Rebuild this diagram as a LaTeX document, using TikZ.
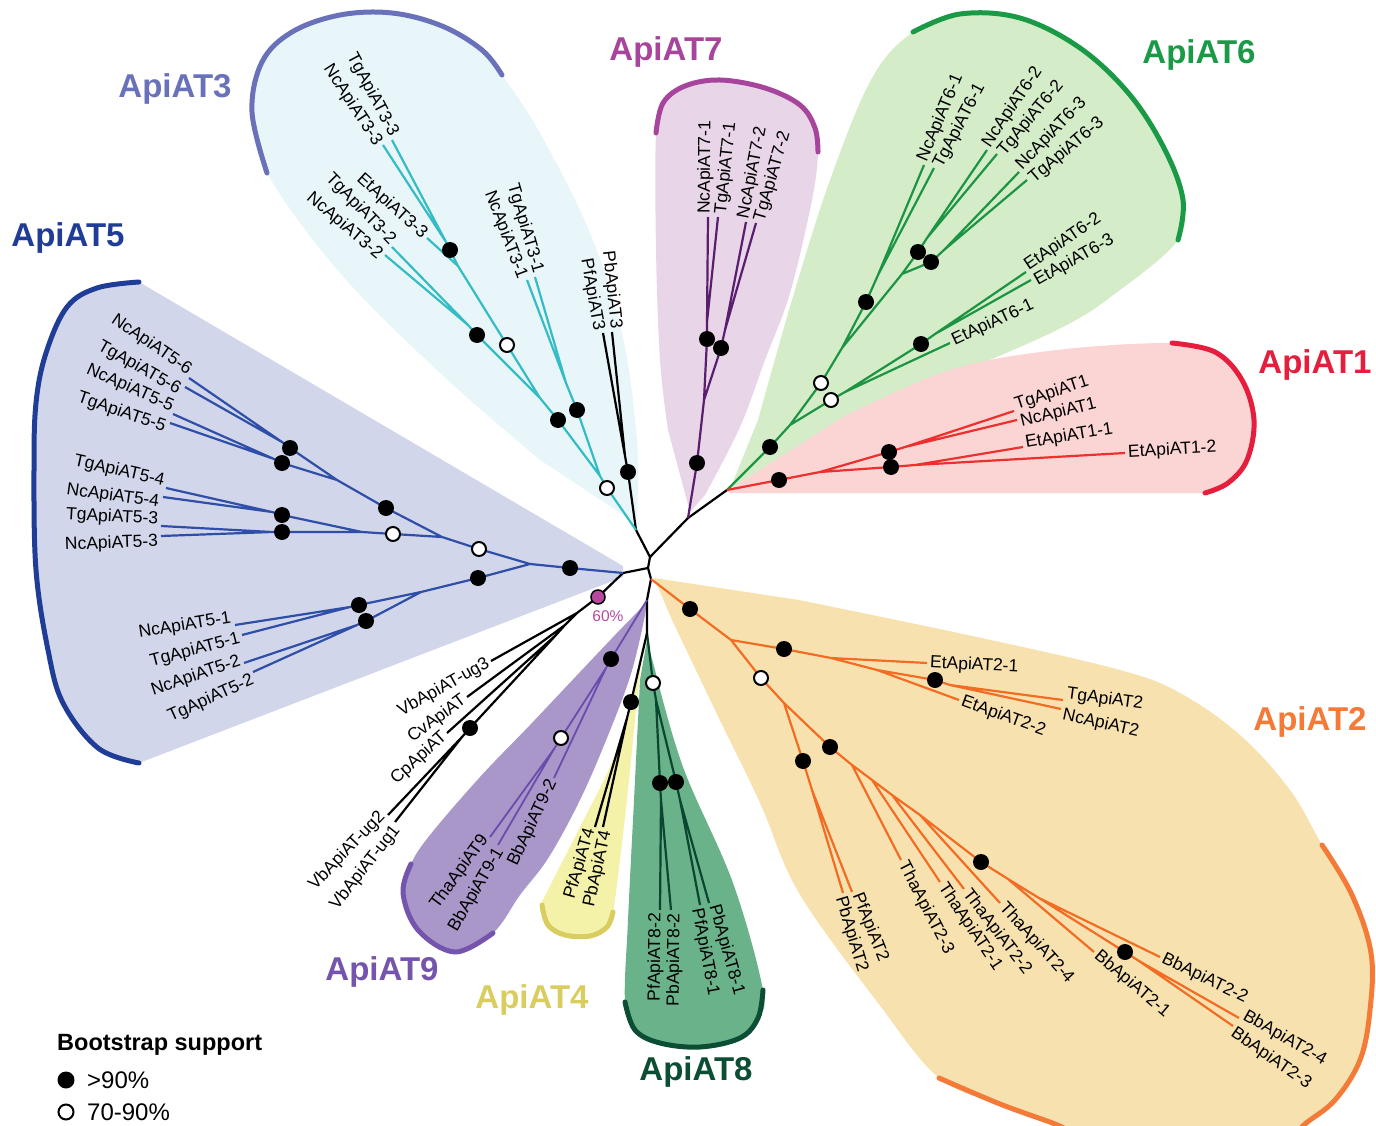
\documentclass[tikz,border=0pt]{standalone}
\usepackage{fontspec}
\setmainfont{Liberation Sans}
\usetikzlibrary{calc}
\definecolor{c3br}{RGB}{52,188,196}
\definecolor{c7br}{RGB}{90,30,110}
\definecolor{c6br}{RGB}{28,148,68}
\definecolor{c1br}{RGB}{236,48,45}
\definecolor{c2br}{RGB}{243,108,36}
\definecolor{c8br}{RGB}{10,70,48}
\definecolor{c9br}{RGB}{106,76,172}
\definecolor{c5br}{RGB}{46,78,168}
\definecolor{c3fill}{RGB}{233,246,249}
\definecolor{c7fill}{RGB}{232,213,231}
\definecolor{c6fill}{RGB}{212,237,200}
\definecolor{c1fill}{RGB}{250,213,211}
\definecolor{c2fill}{RGB}{247,226,175}
\definecolor{c8fill}{RGB}{106,178,137}
\definecolor{c4fill}{RGB}{243,242,168}
\definecolor{c9fill}{RGB}{169,151,201}
\definecolor{c5fill}{RGB}{210,214,234}
\definecolor{c3arc}{RGB}{105,113,186}
\definecolor{c7arc}{RGB}{167,68,155}
\definecolor{c6arc}{RGB}{26,154,70}
\definecolor{c1arc}{RGB}{228,30,60}
\definecolor{c2arc}{RGB}{243,122,55}
\definecolor{c8arc}{RGB}{11,78,51}
\definecolor{c4arc}{RGB}{217,205,96}
\definecolor{c9arc}{RGB}{116,84,172}
\definecolor{c5arc}{RGB}{31,60,151}
\definecolor{pinksix}{RGB}{183,72,158}
\newcommand\lblfont{\fontsize{17.5}{19}\selectfont}
\newcommand\ttlfont{\fontsize{33}{37}\selectfont\bfseries}
\newcommand\lfR[5]{\path ($(#1)!#3pt!90:(#2)$) -- ($(#2)!#3pt!-90:(#1)$) node[lblR] (#4) {#5};}
\newcommand\lfL[5]{\path ($(#1)!#3pt!-90:(#2)$) -- ($(#2)!#3pt!90:(#1)$) node[lblL] (#4) {#5};}
\newcommand\fdt[1]{\node[fdot] (D#1) at (#1) {};}
\newcommand\odt[1]{\node[odot] (D#1) at (#1) {};}
\begin{document}
\begin{tikzpicture}[x=1pt,y=-1pt,
  branch/.style={line width=2.2pt, line join=round},
  fdot/.style={circle, fill=black, minimum size=16pt, inner sep=0pt},
  odot/.style={circle, draw=black, fill=white, line width=2pt, minimum size=14pt, inner sep=0pt},
  cladearc/.style={line width=5pt, line cap=round},
  lblR/.style={pos=1, sloped, anchor=west, inner xsep=3pt, inner ysep=0.5pt, font=\lblfont},
  lblL/.style={pos=1, sloped, anchor=east, inner xsep=3pt, inner ysep=0.5pt, font=\lblfont},
  ttl/.style={font=\ttlfont},
  legf/.style={font=\fontsize{24}{26}\selectfont, anchor=west}]
\useasboundingbox (0,0) rectangle (1376,1126);
\begin{scope}
\clip (0,0) rectangle (1376,1126);
% ---------- clade regions
\fill[c5fill] (623,566) -- (139,282) -- plot[smooth,tension=0.6] coordinates {(139,282) (97,288) (67,307) (46,353) (36,403) (34,470) (36,570) (48,650) (63,703) (98,748) (139,763)} -- (623,577) -- cycle;
\fill[c3fill] (634,522) -- plot[smooth,tension=0.6] coordinates {(540,460) (440,373) (340,273) (267,173) (252,112) (262,62) (292,32) (340,15) (392,13) (442,26) (482,50) (502,75) (540,133) (590,233) (622,333) (637,440) (637,515)} -- cycle;
\fill[c7fill] (690,512) -- plot[smooth,tension=0.6] coordinates {(668,430) (660,360) (656,250) (656,133) (663,103) (685,86) (720,80) (765,88) (800,105) (815,128) (818,152) (812,200) (790,293) (765,360) (740,427) (705,495)} -- cycle;
\fill[c6fill] (730,489) -- plot[smooth,tension=0.6] coordinates {(758,420) (792,300) (830,180) (872,78) (913,32) (960,14) (1020,18) (1080,48) (1130,95) (1165,150) (1183,200) (1178,240) (1120,290) (1057,330) (914,393) (771,463)} -- cycle;
\fill[c1fill] (727,491) -- plot[smooth,tension=0.6] coordinates {(843,417) (950,370) (1057,350) (1172,343) (1215,352) (1242,380) (1254,420) (1247,460) (1228,483) (1205,493)} -- (730,493) -- cycle;
\fill[c2fill] (654,578) -- plot[smooth,tension=0.6] coordinates {(799,600) (977,637) (1120,670) (1180,693) (1240,735) (1290,790) (1322,845) (1352,895) (1371,953) (1370,1010) (1360,1060) (1335,1100) (1305,1124) (1290,1140)} -- (1070,1140) -- plot[smooth,tension=0.6] coordinates {(1055,1124) (1000,1104) (939,1078) (878,1003) (799,893) (760,803) (715,710) (672,620)} -- cycle;
\fill[c8fill] (647,640) -- plot[smooth,tension=0.6] coordinates {(640,680) (634,800) (628,920) (625,1002) (635,1030) (660,1043) (700,1047) (740,1038) (758,1018) (763,990) (733,883) (683,767) (655,670)} -- cycle;
\fill[c4fill] (642,655) -- plot[smooth,tension=0.6] coordinates {(633,700) (613,760) (580,827) (548,890) (542,905) (548,925) (565,935) (590,936) (607,927) (613,912) (620,860) (628,790) (636,710)} -- cycle;
\fill[c9fill] (647,602) -- plot[smooth,tension=0.6] coordinates {(615,635) (580,672) (530,725) (480,777) (430,835) (411,864) (403,893) (418,930) (455,952) (493,933) (520,895) (547,860) (575,810) (600,755) (630,677) (645,615)} -- cycle;
% ---------- clade arcs
\draw[cladearc,c5arc] plot[smooth,tension=0.6] coordinates {(139,282) (97,288) (67,307) (46,353) (36,403) (34,470) (36,570) (48,650) (63,703) (98,748) (139,763)};
\draw[cladearc,c3arc] plot[smooth,tension=0.6] coordinates {(267,173) (252,112) (262,62) (292,32) (340,15) (392,13) (442,26) (482,50) (502,75)};
\draw[cladearc,c7arc] plot[smooth,tension=0.6] coordinates {(656,133) (663,103) (685,86) (720,80) (765,88) (800,105) (815,128) (818,152)};
\draw[cladearc,c6arc] plot[smooth,tension=0.6] coordinates {(913,32) (960,14) (1020,18) (1080,48) (1130,95) (1165,150) (1183,200) (1178,240)};
\draw[cladearc,c1arc] plot[smooth,tension=0.6] coordinates {(1172,343) (1215,352) (1242,380) (1254,420) (1247,460) (1228,483) (1205,493)};
\draw[cladearc,c2arc] plot[smooth,tension=0.6] coordinates {(1322,845) (1352,895) (1371,953) (1370,1010) (1360,1060) (1335,1100) (1305,1124) (1290,1140)};
\draw[cladearc,c2arc] plot[smooth,tension=0.6] coordinates {(939,1078) (1000,1104) (1055,1124) (1070,1132)};
\draw[cladearc,c8arc] plot[smooth,tension=0.6] coordinates {(625,1002) (635,1030) (660,1043) (700,1047) (740,1038) (758,1018) (763,990)};
\draw[cladearc,c4arc] plot[smooth,tension=0.6] coordinates {(542,905) (548,925) (565,935) (590,936) (607,927) (613,912)};
\draw[cladearc,c9arc] plot[smooth,tension=0.6] coordinates {(411,864) (403,893) (418,930) (455,952) (493,933)};
\end{scope}
% ---------- coordinates
\coordinate (R0) at (650,557); \coordinate (R3) at (636,530); \coordinate (R7) at (688,518);
\coordinate (R16) at (727,490); \coordinate (Rm) at (648,568); \coordinate (R5) at (623,573);
\coordinate (R2) at (651,579); \coordinate (R9) at (647,600); \coordinate (R8) at (647,633);
% P3
\coordinate (dP3) at (628,472); \coordinate (nP3) at (625,456); \coordinate (ePb3) at (612,332); \coordinate (ePf3) at (603,333);
% ApiAT3
\coordinate (o3a) at (607,488); \coordinate (n3a) at (600,476); \coordinate (d3b) at (577,410); \coordinate (n31) at (566,383);
\coordinate (eTg31) at (535,277); \coordinate (eNc31) at (527,280); \coordinate (d3c) at (558,420); \coordinate (n3x) at (540,398);
\coordinate (d3d) at (477,335); \coordinate (n32) at (468,325); \coordinate (eTg32) at (392,247); \coordinate (eNc32) at (385,255);
\coordinate (o3e) at (507,345); \coordinate (n33) at (458,266); \coordinate (eEt33) at (427,238); \coordinate (d3f) at (450,250);
\coordinate (n33b) at (446,242); \coordinate (eTg33) at (392,140); \coordinate (eNc33) at (383,145);
% ApiAT7
\coordinate (d7a) at (697,463); \coordinate (n7) at (704,400); \coordinate (d7b) at (707,339); \coordinate (n71) at (707,322);
\coordinate (eNc71) at (708,217); \coordinate (eTg71) at (718,217); \coordinate (d7c) at (721,348); \coordinate (n72) at (725,330);
\coordinate (eNc72) at (746,222); \coordinate (eTg72) at (756,223);
% ApiAT6
\coordinate (d6a) at (770,447); \coordinate (n6a) at (790,425); \coordinate (o6b) at (821,383); \coordinate (n6b) at (842,348);
\coordinate (d6c) at (866,302); \coordinate (n61) at (878,275); \coordinate (eNc61) at (924,165); \coordinate (eTg61) at (934,168);
\coordinate (n623) at (902,274); \coordinate (d6d) at (918,252); \coordinate (n62) at (927,238); \coordinate (eNc62) at (987,150);
\coordinate (eTg62) at (997,154); \coordinate (d6e) at (931,262); \coordinate (n63) at (944,250); \coordinate (eNc63) at (1019,172);
\coordinate (eTg63) at (1027,180); \coordinate (o6f) at (831,400); \coordinate (n6e) at (845,392); \coordinate (eEt61) at (950,343);
\coordinate (d6g) at (921,344); \coordinate (n6g) at (935,334); \coordinate (eEt62) at (1026,272); \coordinate (eEt63) at (1031,280);
% ApiAT1
\coordinate (d1a) at (779,480); \coordinate (n1a) at (820,472); \coordinate (d1b) at (889,452); \coordinate (n1b) at (905,447);
\coordinate (eTg1) at (1014,411); \coordinate (eNc1) at (1017,420); \coordinate (d1c) at (891,467); \coordinate (n1c) at (915,465);
\coordinate (eEt11) at (1023,447); \coordinate (eEt12) at (1125,453);
% ApiAT2
\coordinate (d2a) at (690,609); \coordinate (n2e) at (731,640); \coordinate (d2b) at (784,649); \coordinate (n2f) at (831,658);
\coordinate (eEt21) at (927,663); \coordinate (n2g) at (877,670); \coordinate (eEt22) at (959,700); \coordinate (d2c) at (935,680);
\coordinate (n2h) at (950,685); \coordinate (eTg2) at (1063,700); \coordinate (eNc2) at (1061,709);
\coordinate (o2d) at (761,678); \coordinate (n2i) at (784,703); \coordinate (d2e) at (803,761); \coordinate (n2p) at (812,790);
\coordinate (ePf2) at (852,892); \coordinate (ePb2) at (843,893);
\coordinate (d2f) at (830,747); \coordinate (t1) at (852,765); \coordinate (t2) at (872,780); \coordinate (t3) at (892,795);
\coordinate (t4) at (920,815); \coordinate (d2g) at (981,862); \coordinate (b1) at (1008,879); \coordinate (b2) at (1039,898);
\coordinate (d2h) at (1125,952); \coordinate (b3) at (1139,961);
\coordinate (eTha23) at (901,860); \coordinate (eTha21) at (940,882); \coordinate (eTha22) at (964,889); \coordinate (eTha24) at (1000,903);
\coordinate (eBb21) at (1094,952); \coordinate (eBb22) at (1160,957); \coordinate (eBb24) at (1239,1018); \coordinate (eBb23) at (1233,1026);
% ApiAT8
\coordinate (o8a) at (653,683); \coordinate (n8) at (656,700); \coordinate (d8b) at (660,783); \coordinate (n8a) at (661,800);
\coordinate (ePf82) at (660,910); \coordinate (ePb82) at (671,910); \coordinate (hPb82) at (672,800); \coordinate (d8c) at (676,782);
\coordinate (n8b) at (680,800); \coordinate (ePf81) at (700,905); \coordinate (ePb81) at (709,903);
% ApiAT4
\coordinate (d4a) at (631,702); \coordinate (n4) at (627,718); \coordinate (ePf4) at (595,827); \coordinate (ePb4) at (603,827);
% ApiAT9
\coordinate (d9a) at (611,659); \coordinate (n9) at (606,668); \coordinate (eBb92) at (554,778); \coordinate (o9b) at (561,738);
\coordinate (n9b) at (554,749); \coordinate (eTha9) at (490,837); \coordinate (eBb91) at (498,845);
% ug
\coordinate (d60) at (598,597); \coordinate (nu1) at (577,613); \coordinate (eug3) at (491,661); \coordinate (nu2) at (565,625);
\coordinate (eCv) at (467,697); \coordinate (nu3) at (556,635); \coordinate (eCp) at (447,733); \coordinate (du) at (470,728);
\coordinate (nu4) at (462,737); \coordinate (eug2) at (388,815); \coordinate (eug1) at (395,822);
% ApiAT5
\coordinate (d5a) at (570,568); \coordinate (n5) at (530,564); \coordinate (o5b) at (479,549); \coordinate (n5u) at (442,537);
\coordinate (d5c) at (386,508); \coordinate (n56) at (337,480); \coordinate (d5d) at (290,448); \coordinate (n5s6) at (282,442);
\coordinate (eNc56) at (189,378); \coordinate (eTg56) at (185,387); \coordinate (d5e) at (282,463); \coordinate (n5s5) at (274,459);
\coordinate (eNc55) at (173,414); \coordinate (eTg55) at (170,423); \coordinate (o5f) at (393,534); \coordinate (n534) at (362,532);
\coordinate (d5g) at (282,515); \coordinate (n5s4) at (272,512); \coordinate (eTg54) at (166,488); \coordinate (eNc54) at (163,497);
\coordinate (d5h) at (282,532); \coordinate (n5s3) at (272,532); \coordinate (eTg53) at (161,526); \coordinate (eNc53) at (161,536);
\coordinate (d5i) at (478,578); \coordinate (n5l) at (421,592); \coordinate (d5j) at (359,605); \coordinate (n5s1) at (350,607);
\coordinate (eNc51) at (235,625); \coordinate (eTg51) at (242,635); \coordinate (d5k) at (366,621); \coordinate (n5s2) at (357,625);
\coordinate (eNc52) at (244,663); \coordinate (eTg52) at (253,672);
% ---------- branches
\draw[branch] (R3) -- (R0) -- (R7) -- (R16);
\draw[branch] (R0) -- (Rm) -- (R5);
\draw[branch] (Rm) -- (R2) -- (R9) -- (R8);
\draw[branch] (R3) -- (dP3) -- (nP3) -- (ePb3) (nP3) -- (ePf3);
\draw[branch,c3br] (R3) -- (o3a) -- (n3a) -- (d3b) -- (n31) -- (eTg31) (n31) -- (eNc31)
  (n3a) -- (d3c) -- (n3x) -- (d3d) -- (n32) -- (eTg32) (n32) -- (eNc32)
  (n3x) -- (o3e) -- (n33) -- (eEt33) (n33) -- (d3f) -- (n33b) -- (eTg33) (n33b) -- (eNc33);
\draw[branch,c7br] (R7) -- (d7a) -- (n7) -- (d7b) -- (n71) -- (eNc71) (n71) -- (eTg71)
  (n7) -- (d7c) -- (n72) -- (eNc72) (n72) -- (eTg72);
\draw[branch,c6br] (R16) -- (d6a) -- (n6a) -- (o6b) -- (n6b) -- (d6c) -- (n61) -- (eNc61) (n61) -- (eTg61)
  (n6b) -- (n623) -- (d6d) -- (n62) -- (eNc62) (n62) -- (eTg62)
  (n623) -- (d6e) -- (n63) -- (eNc63) (n63) -- (eTg63)
  (n6a) -- (o6f) -- (n6e) -- (eEt61) (n6e) -- (d6g) -- (n6g) -- (eEt62) (n6g) -- (eEt63);
\draw[branch,c1br] (R16) -- (d1a) -- (n1a) -- (d1b) -- (n1b) -- (eTg1) (n1b) -- (eNc1)
  (n1a) -- (d1c) -- (n1c) -- (eEt11) (n1c) -- (eEt12);
\draw[branch,c2br] (R2) -- (d2a) -- (n2e) -- (d2b) -- (n2f) -- (eEt21) (n2f) -- (n2g) -- (eEt22)
  (n2g) -- (d2c) -- (n2h) -- (eTg2) (n2h) -- (eNc2)
  (n2e) -- (o2d) -- (n2i) -- (d2e) -- (n2p) -- (ePf2) (n2p) -- (ePb2)
  (n2i) -- (d2f) -- (t1) -- (t2) -- (t3) -- (t4) -- (d2g) -- (b1) -- (b2) -- (d2h) -- (b3) -- (eBb24) (b3) -- (eBb23)
  (t1) -- (eTha23) (t2) -- (eTha21) (t3) -- (eTha22) (t4) -- (eTha24) (b1) -- (eBb21) (b2) -- (eBb22);
\draw[branch,c8br] (R8) -- (o8a) -- (n8) -- (d8b) -- (n8a) -- (ePf82) (n8a) -- (ePb82)
  (n8) -- (d8c) -- (n8b) -- (ePf81) (n8b) -- (ePb81);
\draw[branch] (R8) -- (d4a) -- (n4) -- (ePf4) (n4) -- (ePb4);
\draw[branch,c9br,line width=1.8pt] (R9) -- (d9a) -- (n9) -- (eBb92) (n9) -- (o9b) -- (n9b) -- (eTha9) (n9b) -- (eBb91);
\draw[branch] (R5) -- (d60) -- (nu1) -- (eug3) (nu1) -- (nu2) -- (eCv) (nu2) -- (nu3) -- (eCp)
  (nu3) -- (du) -- (nu4) -- (eug2) (nu4) -- (eug1);
\draw[branch,c5br] (R5) -- (d5a) -- (n5) -- (o5b) -- (n5u) -- (d5c) -- (n56) -- (d5d) -- (n5s6) -- (eNc56) (n5s6) -- (eTg56)
  (n56) -- (d5e) -- (n5s5) -- (eNc55) (n5s5) -- (eTg55)
  (n5u) -- (o5f) -- (n534) -- (d5g) -- (n5s4) -- (eTg54) (n5s4) -- (eNc54)
  (n534) -- (d5h) -- (n5s3) -- (eTg53) (n5s3) -- (eNc53)
  (n5) -- (d5i) -- (n5l) -- (d5j) -- (n5s1) -- (eNc51) (n5s1) -- (eTg51)
  (n5l) -- (d5k) -- (n5s2) -- (eNc52) (n5s2) -- (eTg52);
% ---------- support dots
\foreach \p in {dP3,d3b,d3c,d3d,d3f,d7a,d7b,d7c,d6a,d6c,d6d,d6e,d6g,d1a,d1b,d1c,d2a,d2b,d2c,d2e,d2f,d2g,d2h,d8b,d8c,d4a,d9a,du,d5a,d5c,d5d,d5e,d5g,d5h,d5i,d5j,d5k}{\fdt{\p}}
\foreach \p in {o3a,o3e,o6b,o6f,o2d,o8a,o9b,o5b,o5f}{\odt{\p}}
\node[circle, fill=pinksix, draw=black, line width=1.5pt, minimum size=14pt, inner sep=0pt] (Dd60) at (d60) {};
\node[text=pinksix, font=\fontsize{15.5}{16}\selectfont] (l60) at (608,616) {60\%};
% ---------- leaf labels
\lfL{nP3}{ePb3}{4}{lPb3}{PbApiAT3}
\lfL{nP3}{ePf3}{-4}{lPf3}{PfApiAT3}
\lfL{n31}{eTg31}{4}{lTg31}{TgApiAT3-1}
\lfL{n31}{eNc31}{-4}{lNc31}{NcApiAT3-1}
\lfL{n32}{eTg32}{4}{lTg32}{TgApiAT3-2}
\lfL{n32}{eNc32}{-4}{lNc32}{NcApiAT3-2}
\lfL{n33}{eEt33}{0}{lEt33}{EtApiAT3-3}
\lfL{n33b}{eTg33}{4}{lTg33}{TgApiAT3-3}
\lfL{n33b}{eNc33}{-4}{lNc33}{NcApiAT3-3}
\lfR{n71}{eNc71}{3}{lNc71}{NcApiAT7-1}
\lfR{n71}{eTg71}{-3}{lTg71}{TgApiAT7-1}
\lfR{n72}{eNc72}{3}{lNc72}{NcApiAT7-2}
\lfR{n72}{eTg72}{-3}{lTg72}{TgApiAT7-2}
\lfR{n61}{eNc61}{3}{lNc61}{NcApiAT6-1}
\lfR{n61}{eTg61}{-3}{lTg61}{TgApiAT6-1}
\lfR{n62}{eNc62}{3}{lNc62}{NcApiAT6-2}
\lfR{n62}{eTg62}{-3}{lTg62}{TgApiAT6-2}
\lfR{n63}{eNc63}{3}{lNc63}{NcApiAT6-3}
\lfR{n63}{eTg63}{-3}{lTg63}{TgApiAT6-3}
\lfR{n6g}{eEt62}{4}{lEt62}{EtApiAT6-2}
\lfR{n6g}{eEt63}{-4}{lEt63}{EtApiAT6-3}
\lfR{n6e}{eEt61}{0}{lEt61}{EtApiAT6-1}
\lfR{n1b}{eTg1}{5}{lTg1}{TgApiAT1}
\lfR{n1b}{eNc1}{-3}{lNc1}{NcApiAT1}
\lfR{n1c}{eEt11}{3}{lEt11}{EtApiAT1-1}
\lfR{n1c}{eEt12}{0}{lEt12}{EtApiAT1-2}
\lfR{n2f}{eEt21}{0}{lEt21}{EtApiAT2-1}
\lfR{n2g}{eEt22}{0}{lEt22}{EtApiAT2-2}
\lfR{n2h}{eTg2}{6}{lTg2}{TgApiAT2}
\lfR{n2h}{eNc2}{-6}{lNc2}{NcApiAT2}
\lfR{n2p}{ePf2}{4}{lPf2}{PfApiAT2}
\lfR{n2p}{ePb2}{-4}{lPb2}{PbApiAT2}
\lfR{t1}{eTha23}{0}{lTha23}{ThaApiAT2-3}
\lfR{t2}{eTha21}{0}{lTha21}{ThaApiAT2-1}
\lfR{t3}{eTha22}{0}{lTha22}{ThaApiAT2-2}
\lfR{t4}{eTha24}{0}{lTha24}{ThaApiAT2-4}
\lfR{b1}{eBb21}{0}{lBb21}{BbApiAT2-1}
\lfR{b2}{eBb22}{0}{lBb22}{BbApiAT2-2}
\lfR{b3}{eBb24}{5}{lBb24}{BbApiAT2-4}
\lfR{b3}{eBb23}{-5}{lBb23}{BbApiAT2-3}
\lfL{n8a}{ePf82}{4}{lPf82}{PfApiAT8-2}
\lfL{hPb82}{ePb82}{-4}{lPb82}{PbApiAT8-2}
\lfR{n8b}{ePb81}{4}{lPb81}{PbApiAT8-1}
\lfR{n8b}{ePf81}{-4}{lPf81}{PfApiAT8-1}
\lfL{n4}{ePf4}{4}{lPf4}{PfApiAT4}
\lfL{n4}{ePb4}{-4}{lPb4}{PbApiAT4}
\lfL{n9b}{eTha9}{4}{lTha9}{ThaApiAT9}
\lfL{n9b}{eBb91}{-4}{lBb91}{BbApiAT9-1}
\lfL{n9}{eBb92}{0}{lBb92}{BbApiAT9-2}
\lfL{nu1}{eug3}{0}{lug3}{VbApiAT-ug3}
\lfL{nu2}{eCv}{0}{lCv}{CvApiAT}
\lfL{nu3}{eCp}{0}{lCp}{CpApiAT}
\lfL{nu4}{eug2}{5}{lug2}{VbApiAT-ug2}
\lfL{nu4}{eug1}{-5}{lug1}{VbApiAT-ug1}
\lfL{n5s6}{eNc56}{6}{lNc56}{NcApiAT5-6}
\lfL{n5s6}{eTg56}{-6}{lTg56}{TgApiAT5-6}
\lfL{n5s5}{eNc55}{6}{lNc55}{NcApiAT5-5}
\lfL{n5s5}{eTg55}{-6}{lTg55}{TgApiAT5-5}
\lfL{n5s4}{eTg54}{6}{lTg54}{TgApiAT5-4}
\lfL{n5s4}{eNc54}{-6}{lNc54}{NcApiAT5-4}
\lfL{n5s3}{eTg53}{6}{lTg53}{TgApiAT5-3}
\lfL{n5s3}{eNc53}{-6}{lNc53}{NcApiAT5-3}
\lfL{n5s1}{eNc51}{7}{lNc51}{NcApiAT5-1}
\lfL{n5s1}{eTg51}{-3}{lTg51}{TgApiAT5-1}
\lfL{n5s2}{eNc52}{3}{lNc52}{NcApiAT5-2}
\lfL{n5s2}{eTg52}{-7}{lTg52}{TgApiAT5-2}
% ---------- clade titles
\node[ttl, text=c3arc] (t3) at (175,89) {ApiAT3};
\node[ttl, text=c7arc] (t7) at (666,52) {ApiAT7};
\node[ttl, text=c6arc] (t6) at (1199,55) {ApiAT6};
\node[ttl, text=c1arc] (t1x) at (1315,365) {ApiAT1};
\node[ttl, text=c2arc] (t2x) at (1310,722) {ApiAT2};
\node[ttl, text=c5arc] (t5) at (68,238) {ApiAT5};
\node[ttl, text=c9arc] (t9) at (382,972) {ApiAT9};
\node[ttl, text=c4arc] (t4x) at (532,1000) {ApiAT4};
\node[ttl, text=c8arc] (t8) at (696,1072) {ApiAT8};
% ---------- legend
\node[legf, font=\fontsize{23.5}{26}\selectfont\bfseries, inner sep=0pt] (legt) at (57,1045) {Bootstrap support};
\node[fdot, minimum size=17pt] (legfd) at (66,1080) {};
\node[legf, inner sep=0pt] (legft) at (87,1080) {>90\%};
\node[odot, minimum size=15pt] (legod) at (66,1112) {};
\node[legf, inner sep=0pt] (legot) at (87,1112) {70-90\%};
\end{tikzpicture}
\end{document}
